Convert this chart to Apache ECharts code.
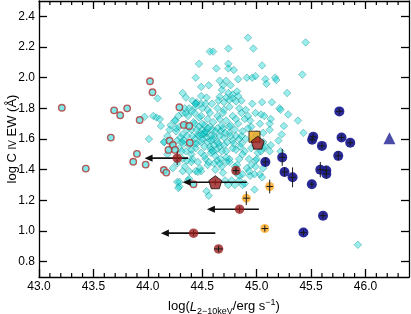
<!DOCTYPE html>
<html><head><meta charset="utf-8">
<script src="https://cdn.jsdelivr.net/npm/echarts@6/dist/echarts.min.js"></script>
<style>html,body{margin:0;padding:0;background:#fff}#c{width:411px;height:314px}</style>
</head><body><div id="c"></div>
<script>
// ---- axis ranges & ticks ----
const xMin = 43.0, xMax = 46.4, yMin = 0.7, yMax = 2.5;
const xMajorTicks = [43.0, 43.5, 44.0, 44.5, 45.0, 45.5, 46.0];
const xMinorTicks = [43.1,43.2,43.3,43.4,43.6,43.7,43.8,43.9,44.1,44.2,44.3,44.4,44.6,44.7,44.8,44.9,45.1,45.2,45.3,45.4,45.6,45.7,45.8,45.9,46.1,46.2,46.3];
const yTicks = [0.8, 1.0, 1.2, 1.4, 1.6, 1.8, 2.0, 2.2, 2.4];

// ---- cyan diamonds (comparison sample) ----
const cyanPoints = [
[44.92,2.26],[45.45,2.23],[44.97,2.19],[44.74,2.19],[44.57,2.17],[44.60,2.17],[44.47,2.09],[44.74,2.09],[45.05,2.08],[44.63,2.06],[44.74,2.06],[44.79,2.05],[45.42,2.02],[44.44,2.00],[44.66,1.98],[44.72,1.98],[44.83,1.99],[44.91,2.00],[44.96,2.00],[44.99,2.01],[45.08,1.99],[45.17,2.00],[45.18,1.985],[45.09,1.96],[45.28,1.90],[44.49,1.94],[44.56,1.95],[44.69,1.95],[44.76,1.95],[44.68,1.92],[44.74,1.90],[44.32,1.90],[44.09,1.865],
[44.35,1.87],[44.41,1.85],[44.49,1.88],[44.54,1.87],[44.45,1.84],[44.49,1.83],[44.53,1.83],[44.59,1.83],[44.66,1.875],[44.72,1.87],[44.78,1.89],[44.82,1.91],[44.83,1.88],[44.78,1.865],[44.75,1.855],[44.86,1.85],[44.81,1.845],[44.96,1.83],[45.05,1.84],[45.14,1.84],[44.44,1.83],[44.65,1.85],[44.70,1.84],
[45.21,1.80],[45.22,1.79],[45.29,1.76],[45.38,1.72],[45.13,1.73],[45.12,1.70],[45.25,1.685],[45.12,1.66],[45.43,1.64],[45.23,1.63],[45.20,1.59],[45.13,1.56],[45.12,1.52],[45.22,1.52],[45.06,1.54],[45.01,1.51],[44.99,1.46],[44.95,1.43],[45.06,1.41],[45.93,0.91],
[43.97,1.745],[44.05,1.75],[44.08,1.74],[44.11,1.73],[44.12,1.685],[44.01,1.60],[44.15,1.58],[44.31,1.58],
[44.38,1.80],[44.44,1.81],[44.50,1.80],[44.55,1.79],[44.64,1.80],[44.70,1.79],[44.75,1.81],[44.84,1.80],[44.90,1.79],
[44.32,1.77],[44.37,1.75],[44.43,1.77],[44.49,1.75],[44.57,1.77],[44.64,1.75],[44.69,1.77],[44.78,1.75],[44.86,1.77],[44.92,1.75],[44.99,1.77],[45.04,1.76],
[44.25,1.72],[44.29,1.68],[44.35,1.70],[44.43,1.70],[44.52,1.69],[44.60,1.71],[44.64,1.67],[44.72,1.72],[44.75,1.68],[44.83,1.70],[44.89,1.73],[44.95,1.68],[45.03,1.70],[45.07,1.75],
[44.26,1.65],[44.32,1.63],[44.40,1.66],[44.46,1.63],[44.54,1.64],[44.61,1.62],[44.67,1.65],[44.75,1.64],[44.81,1.62],[44.87,1.65],[44.92,1.67],[45.00,1.63],[45.06,1.64],
[44.27,1.59],[44.33,1.57],[44.43,1.60],[44.49,1.58],[44.54,1.61],[44.57,1.55],[44.64,1.58],[44.70,1.56],[44.78,1.59],[44.86,1.57],[44.90,1.60],[45.06,1.58],[45.08,1.55],
[44.29,1.54],[44.35,1.52],[44.44,1.54],[44.49,1.51],[44.58,1.53],[44.66,1.55],[44.72,1.52],[44.81,1.53],[44.89,1.52],[44.95,1.54],[45.00,1.47],[45.04,1.52],[44.32,1.47],[44.41,1.47],[44.53,1.47],[44.64,1.46],[44.75,1.47],[44.84,1.47],
[44.27,1.44],[44.34,1.42],[44.40,1.45],[44.48,1.41],[44.55,1.43],[44.61,1.44],[44.68,1.42],[44.75,1.45],[44.82,1.43],[44.91,1.41],
[44.32,1.39],[44.38,1.39],[44.44,1.39],[44.49,1.39],[44.23,1.41],[44.46,1.385],[44.66,1.44],[44.72,1.45],[44.31,1.52],
[44.81,1.38],[44.84,1.36],[44.87,1.37],[44.94,1.36],[44.98,1.37],[45.03,1.37],[45.05,1.35],[44.27,1.32],[44.29,1.29],[44.28,1.28],[44.37,1.33],[44.38,1.34],[44.54,1.26],[44.56,1.23],[44.74,1.30],[44.80,1.30],[44.87,1.30],[44.71,1.33],[44.77,1.33],[44.84,1.33],[44.89,1.31],[44.98,1.27],[44.29,1.32],
[44.26,1.67],[44.21,1.69],[44.25,1.72],[44.28,1.75],[44.35,1.77],[44.34,1.80],[44.40,1.78],[44.44,1.83],[44.15,1.58],[44.18,1.62],[44.20,1.66],[44.22,1.55],[44.18,1.50],
[44.47,1.62],[44.51,1.63],[44.53,1.65],[44.50,1.66],[44.57,1.68],[44.60,1.60],[44.45,1.57],[44.58,1.51],[44.62,1.49],[44.68,1.52],[44.70,1.61],[44.73,1.58],[44.66,1.62],[44.59,1.66],[44.47,1.68],[44.41,1.62],[44.38,1.56],[44.40,1.50],[44.52,1.55],[44.61,1.56],[44.69,1.67],[44.80,1.66],[44.84,1.60],[44.78,1.54],[44.87,1.50],[44.93,1.47],[44.97,1.60],[44.94,1.72],[44.81,1.73],[44.66,1.73],[44.55,1.73],[44.47,1.74],[44.36,1.66],[44.30,1.61],[44.36,1.62],[44.58,1.62],[44.72,1.48],[44.80,1.42],[44.56,1.45],[44.46,1.45],[44.36,1.46],[44.62,1.40],[44.69,1.38],[44.93,1.39],[44.99,1.42],[44.85,1.55],[44.76,1.62],[44.63,1.53],[44.55,1.58],[44.50,1.60],
[44.52,1.64],[44.49,1.63],[44.55,1.67],[44.62,1.65],[44.45,1.66],[44.58,1.59],[44.65,1.57],[44.43,1.57],[44.71,1.64],[44.60,1.52],[44.50,1.70],[44.68,1.69],[44.42,1.71],[44.76,1.69],[44.33,1.59],[44.86,1.62],[44.79,1.57],[44.52,1.49],[44.40,1.53],[44.67,1.47]
];

// ---- red-edged open circles ----
const ringX = [43.21,43.69,43.746,43.81,43.925,43.66,43.90,43.43,43.866,44.02,44.043,44.29,44.33,44.38,44.386,44.20,44.23,44.19,44.25,43.98,44.147,44.17,44.42];
const ringY = [1.804,1.787,1.755,1.80,1.724,1.609,1.503,1.407,1.452,1.977,1.905,1.807,1.692,1.685,1.576,1.589,1.561,1.529,1.529,1.433,1.398,1.381,1.305];

// ---- blue filled circles ----
const blueX = [45.76,45.52,45.51,45.60,45.78,45.86,45.75,45.235,45.08,45.256,45.33,45.507,45.585,45.64,45.64,45.61,45.43];
const blueY = [1.78,1.615,1.595,1.555,1.61,1.575,1.49,1.48,1.45,1.385,1.35,1.305,1.40,1.395,1.372,1.10,0.99];
const blueXErr = [0.03,0.03,0.03,0.03,0.03,0.03,0.03,0.03,0.03,0.03,0.03,0.02,0.03,0.03,0.03,0.03,0.03];
const blueYErr = [0.02,0.02,0.02,0.02,0.02,0.02,0.03,0.055,0.03,0.03,0.065,0.02,0.05,0.03,0.03,0.02,0.02];
const triX = [46.22], triY = [1.605];

// ---- orange ----
const orangeX = [45.12,44.905,45.075];
const orangeY = [1.29,1.214,1.016];
const orangeXErr = [0.03,0.03,0.03];
const orangeYErr = [0.045,0.045,0.02];
const squareX = [44.98], squareY = [1.615];

// ---- dark red ----
const redX = [44.65,44.81];
const redY = [0.883,1.394];
const redXErr = [0.04,0.03];
const redYErr = [0.02,0.02];
const pentX = [45.01], pentY = [1.576];
// upper limits (arrows)
const limX = [44.27,44.62,44.843,44.42];
const limY = [1.475,1.318,1.142,0.986];
const limXHi = [44.37,44.91,45.02,44.62];
const limYErr = [0.045,0.02,0.02,0.02];
const limLen = [0.3,0.3,0.3,0.3];
const limPent = [false,true,false,false];

const FONT = '"Liberation Sans", Arial, Helvetica, sans-serif';
const PENT = 'path://M0,-1 L0.951,-0.309 L0.588,0.809 L-0.588,0.809 L-0.951,-0.309 Z';

function zip(xs, ys){ return xs.map((x,i)=>[x, ys[i]]); }
function errData(xs, ys, xe, ye){ return xs.map((x,i)=>[x, ys[i], x-xe[i], x+xe[i], ys[i]-ye[i], ys[i]+ye[i]]); }

const errAll = [].concat(
  errData(blueX, blueY, blueXErr, blueYErr),
  errData(orangeX, orangeY, orangeXErr, orangeYErr),
  errData(redX, redY, redXErr, redYErr)
);
const limData = limX.map((x,i)=>[x, limY[i], x - limLen[i], limXHi[i], limY[i]-limYErr[i], limY[i]+limYErr[i]]);

function renderErr(params, api){
  const x=api.value(0), y=api.value(1);
  const a=api.coord([api.value(2), y]), b=api.coord([api.value(3), y]);
  const c=api.coord([x, api.value(4)]), d=api.coord([x, api.value(5)]);
  const st={stroke:'#1a1a1a', lineWidth:1};
  return {type:'group', children:[
    {type:'line', shape:{x1:a[0],y1:a[1],x2:b[0],y2:b[1]}, style:st},
    {type:'line', shape:{x1:c[0],y1:c[1],x2:d[0],y2:d[1]}, style:st}
  ]};
}
function renderLim(params, api){
  const x=api.value(0), y=api.value(1);
  const tip=api.coord([api.value(2), y]), r=api.coord([api.value(3), y]);
  const c=api.coord([x, api.value(4)]), d=api.coord([x, api.value(5)]);
  const hl=8, hw=3.6;
  return {type:'group', children:[
    {type:'line', shape:{x1:tip[0]+hl-1,y1:tip[1],x2:r[0],y2:r[1]}, style:{stroke:'#111', lineWidth:1.6}},
    {type:'polygon', shape:{points:[[tip[0],tip[1]],[tip[0]+hl,tip[1]-hw],[tip[0]+hl,tip[1]+hw]]}, style:{fill:'#111'}},
    {type:'line', shape:{x1:c[0],y1:c[1],x2:d[0],y2:d[1]}, style:{stroke:'#1a1a1a', lineWidth:1}}
  ]};
}
function renderMinor(params, api){
  const v=api.value(0);
  const b=api.coord([v, yMin]), t=api.coord([v, yMax]);
  const st={stroke:'#000', lineWidth:1.2};
  return {type:'group', children:[
    {type:'line', shape:{x1:b[0],y1:b[1],x2:b[0],y2:b[1]-4}, style:st},
    {type:'line', shape:{x1:t[0],y1:t[1],x2:t[0],y2:t[1]+4}, style:st}
  ]};
}

const axisLineStyle = {color:'#000', width:1.3};
const xLabelFmt = v => (Math.abs(v*2 - Math.round(v*2)) < 1e-6 && v < 46.2) ? v.toFixed(1) : '';

const chart = echarts.init(document.getElementById('c'), null, {renderer:'canvas'});
chart.setOption({
  animation:false,
  backgroundColor:'#fff',
  grid:{left:39, right:2, top:1, bottom:37, containLabel:false, outerBoundsMode:'none'},
  xAxis:[
    {type:'value', min:xMin, max:xMax, interval:0.5, position:'bottom',
     axisLine:{onZero:false, lineStyle:axisLineStyle},
     axisTick:{inside:true, length:8, customValues:xMajorTicks, lineStyle:{color:'#000', width:1.3}},
     axisLabel:{margin:4, fontSize:12, color:'#000', fontFamily:FONT, customValues:xMajorTicks, formatter:xLabelFmt},
     splitLine:{show:false},
     name:'{a|log(}{i|L}{s|2−10keV}{a|/erg s}{p|−1}{a|)}',
     nameLocation:'middle', nameGap:14,
     nameTextStyle:{rich:{
       a:{fontSize:13, fontFamily:FONT, color:'#000', lineHeight:18, verticalAlign:'middle'},
       i:{fontSize:13, fontFamily:FONT, color:'#000', fontStyle:'italic', lineHeight:18, verticalAlign:'middle'},
       s:{fontSize:9, fontFamily:FONT, color:'#000', lineHeight:10, verticalAlign:'bottom'},
       p:{fontSize:9, fontFamily:FONT, color:'#000', lineHeight:10, verticalAlign:'top'}
     }}
    },
    {type:'value', min:xMin, max:xMax, interval:0.5, position:'top',
     axisLine:{onZero:false, lineStyle:axisLineStyle},
     axisTick:{inside:true, length:8, customValues:xMajorTicks, lineStyle:{color:'#000', width:1.3}},
     axisLabel:{show:false}, splitLine:{show:false}}
  ],
  yAxis:[
    {type:'value', min:yMin, max:yMax, position:'left',
     axisLine:{onZero:false, lineStyle:axisLineStyle},
     axisTick:{inside:true, length:8, customValues:yTicks, lineStyle:{color:'#000', width:1.3}},
     axisLabel:{margin:4, fontSize:12, color:'#000', fontFamily:FONT, customValues:yTicks, formatter:v=>v.toFixed(1)},
     splitLine:{show:false},
     name:'{a|log C }{c|IV}{a| EW (Å)}',
     nameLocation:'middle', nameGap:20, nameRotate:90, nameMoveOverlap:false,
     nameTextStyle:{rich:{
       a:{fontSize:13, fontFamily:FONT, color:'#000', lineHeight:16, verticalAlign:'bottom'},
       c:{fontSize:10, fontFamily:FONT, color:'#000', lineHeight:13, verticalAlign:'bottom', padding:[0,0,1,0]}
     }}
    },
    {type:'value', min:yMin, max:yMax, position:'right',
     axisLine:{onZero:false, lineStyle:axisLineStyle},
     axisTick:{inside:true, length:8, customValues:yTicks, lineStyle:{color:'#000', width:1.3}},
     axisLabel:{show:false}, splitLine:{show:false}}
  ],
  series:[
    {type:'custom', renderItem:renderMinor, data:xMinorTicks.map(v=>[v, yMin]), silent:true, z:10, clip:false},
    {type:'scatter', data:cyanPoints, symbol:'diamond', symbolSize:7.5, z:2,
     itemStyle:{color:'rgba(0,210,210,0.5)', borderColor:'rgba(0,125,125,0.6)', borderWidth:0.8}},
    {type:'scatter', data:zip(ringX, ringY), symbol:'circle', symbolSize:6.5, z:3,
     itemStyle:{color:'#5fe3e3', borderColor:'#b03232', borderWidth:1.4}},
    {type:'scatter', data:zip(squareX, squareY), symbol:'rect', symbolSize:11, z:4,
     itemStyle:{color:'#f3a314', borderColor:'#111', borderWidth:1}},
    {type:'scatter', data:zip(blueX, blueY), symbol:'circle', symbolSize:10, z:4,
     itemStyle:{color:'#1e1e92', opacity:0.95}},
    {type:'scatter', data:zip(triX, triY), symbol:'triangle', symbolSize:12, z:4,
     itemStyle:{color:'#1e1e92'}},
    {type:'scatter', data:zip(orangeX, orangeY), symbol:'circle', symbolSize:9, z:4,
     itemStyle:{color:'#fca820'}},
    {type:'custom', renderItem:renderLim, data:limData, z:5, silent:true},
    {type:'scatter', data:zip(redX, redY).concat(limX.map((x,i)=>[x,limY[i]]).filter((p,i)=>!limPent[i])), symbol:'circle', symbolSize:9.5, z:6,
     itemStyle:{color:'#971b1b'}},
    {type:'scatter', data:zip(pentX, pentY).concat(limX.map((x,i)=>[x,limY[i]]).filter((p,i)=>limPent[i])), symbol:PENT, symbolSize:13, z:6,
     itemStyle:{color:'#971b1b', borderColor:'#111', borderWidth:1}},
    {type:'custom', renderItem:renderErr, data:errAll, z:7, silent:true}
  ]
});
</script></body></html>
